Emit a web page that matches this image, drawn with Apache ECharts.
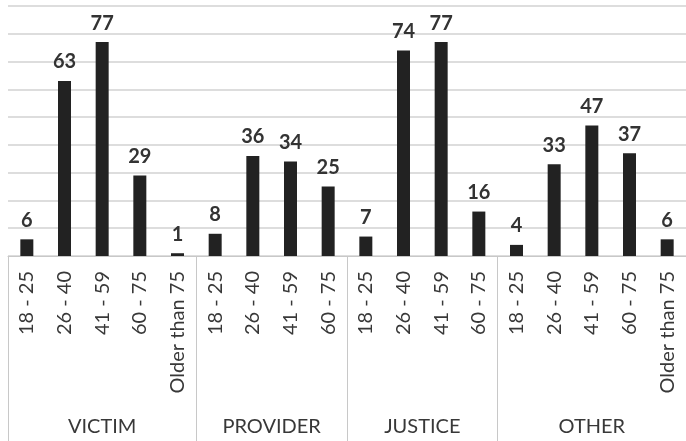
<!DOCTYPE html>
<html><head><meta charset="utf-8">
<script src="https://cdn.jsdelivr.net/npm/echarts@6/dist/echarts.min.js"></script>
<style>html,body{margin:0;padding:0;background:#fff}#c{width:686px;height:441px}</style>
</head><body><div id="c"></div>
<script>
const ageLabels = ['18 - 25','26 - 40','41 - 59','60 - 75','Older than 75',
  '18 - 25','26 - 40','41 - 59','60 - 75',
  '18 - 25','26 - 40','41 - 59','60 - 75',
  '18 - 25','26 - 40','41 - 59','60 - 75','Older than 75'];
const values = [6,63,77,29,1, 8,36,34,25, 7,74,77,16, 4,33,47,37,6];
const groupNames = ['VICTIM','PROVIDER','JUSTICE','OTHER'];
const groupSizes = [5,4,4,5];

const bounds=[0]; groupSizes.forEach(s=>bounds.push(bounds[bounds.length-1]+s));
const centers=groupSizes.map((s,i)=>bounds[i]+s/2);

const font='Lato, "Open Sans", sans-serif';
const chart=echarts.init(document.getElementById('c'),null,{renderer:'canvas'});
chart.setOption({
  animation:false,
  grid:{left:8,right:-6,top:6,bottom:185,containLabel:false},
  xAxis:[{
    type:'category',data:ageLabels,position:'bottom',
    axisLine:{show:true,lineStyle:{color:'#c8c8c8',width:1}},
    axisTick:{show:false},
    axisLabel:{rotate:90,margin:15,fontSize:20,color:'#383838',fontFamily:font,interval:0}
  },{
    type:'value',min:0,max:ageLabels.length,position:'bottom',
    axisLine:{show:false},splitLine:{show:false},
    axisTick:{show:true,customValues:bounds,length:185,lineStyle:{color:'#c8c8c8',width:1}},
    axisLabel:{customValues:centers,margin:161,fontSize:20,color:'#383838',fontFamily:font,
      formatter:(v)=>{const i=centers.indexOf(v);return i>=0?groupNames[i]:'';}}
  }],
  yAxis:{type:'value',min:0,max:90,interval:10,
    axisLine:{show:false},axisTick:{show:false},axisLabel:{show:false},
    splitLine:{lineStyle:{color:'#d2d2d2',width:1.5}}},
  series:[{type:'bar',data:values,barWidth:13,xAxisIndex:0,
    itemStyle:{color:'#222'},
    label:{show:true,position:'top',distance:9,fontSize:20,fontWeight:'bold',color:'#333',fontFamily:font}}]
});
</script></body></html>
